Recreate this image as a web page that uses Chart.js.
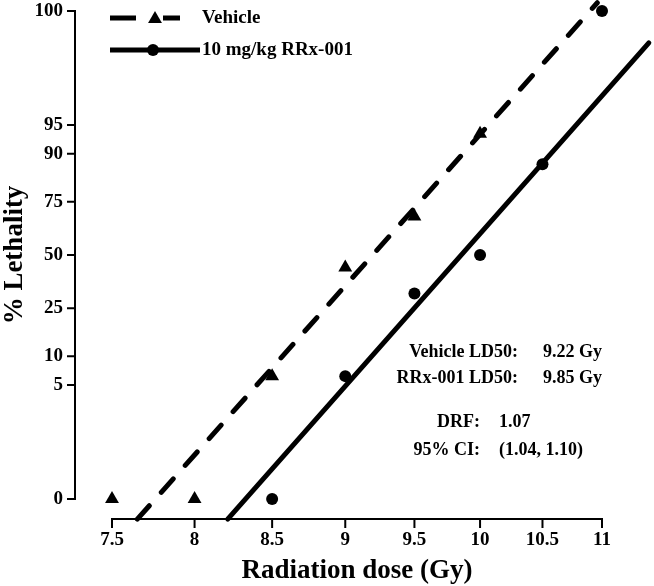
<!DOCTYPE html>
<html>
<head>
<meta charset="utf-8">
<title>% Lethality vs radiation dose</title>
<script src="https://cdn.jsdelivr.net/npm/chart.js@4.4.0/dist/chart.umd.min.js"></script>
<style>
  html, body { margin: 0; padding: 0; background: #fff; }
  #wrap { width: 654px; height: 586px; }
</style>
</head>
<body>
<div id="wrap"><canvas id="lethalityChart" width="654" height="586"></canvas></div>
<script>
// --- values (n = 16 per dose group) ---
const vehicleDose = [7.5, 8, 8.5, 9, 9.5, 10];
const vehicleLethality = [0, 0, 6.25, 43.75, 68.75, 93.75];
const rrxDose = [8.5, 9, 9.5, 10, 10.5, 11];
const rrxLethality = [0, 6.25, 31.25, 50, 87.5, 100];

// probit fit lines, end points as drawn in the figure
const vehicleFitDose = [7.65, 10.96];
const vehicleFitLethality = [0.041, 99.93];
const rrxFitDose = [8.21, 11.41];
const rrxFitLethality = [0.041, 99.64];

const xTicks = [7.5, 8, 8.5, 9, 9.5, 10, 10.5, 11];
const yTicks = [0, 5, 10, 25, 50, 75, 90, 95, 100];

const ld50Labels = ['Vehicle LD50:', 'RRx-001 LD50:'];
const ld50Values = ['9.22 Gy', '9.85 Gy'];
const drfLabels = ['DRF:', '95% CI:'];
const drfValues = ['1.07', '(1.04, 1.10)'];

const SERIF = '"Liberation Serif", "Times New Roman", serif';
const INK = '#000';

// inverse normal CDF (Acklam), used for the probability axis
function probit(p) {
    const a = [-39.69683028665376, 220.9460984245205, -275.9285104469687, 138.3577518672690, -30.66479806614716, 2.506628277459239];
    const b = [-54.47609879822406, 161.5858368580409, -155.6989798598866, 66.80131188771972, -13.28068155833317];
    const c = [-0.007784894002430293, -0.3223964580411365, -2.400758277161838, -2.549732539343734, 4.374664141464968, 2.938163982698783];
    const d = [0.007784695709041462, 0.3224671290700398, 2.445134137142996, 3.754408661907416];
    const lo = 0.02425;
    if (p < lo || p > 1 - lo) {
        const q = Math.sqrt(-2 * Math.log(p < lo ? p : 1 - p));
        const z = (((((c[0]*q+c[1])*q+c[2])*q+c[3])*q+c[4])*q+c[5]) / ((((d[0]*q+d[1])*q+d[2])*q+d[3])*q+1);
        return p < lo ? z : -z;
    }
    const q = p - 0.5, r = q * q;
    return (((((a[0]*r+a[1])*r+a[2])*r+a[3])*r+a[4])*r+a[5])*q / (((((b[0]*r+b[1])*r+b[2])*r+b[3])*r+b[4])*r+1);
}

// 0 % and 100 % sit at the 0.1 % / 99.9 % positions
const Z_END = probit(0.999);
function toZ(pct) {
    const p = pct <= 0 ? 0.001 : pct >= 100 ? 0.999 : pct / 100;
    return probit(p);
}

class ProbitScale extends Chart.LinearScale {
    determineDataLimits() { this.min = 0; this.max = 100; }
    buildTicks() { return yTicks.map(v => ({ value: v })); }
    getPixelForValue(v) {
        return this.getPixelForDecimal((toZ(v) + Z_END) / (2 * Z_END));
    }
}
ProbitScale.id = 'probit';
ProbitScale.defaults = {};
Chart.register(ProbitScale);

const toPoints = (xs, ys) => xs.map((x, i) => ({ x, y: ys[i] }));

// axes are offset from the plot area, SigmaPlot style
const AXIS_X = 75;
const AXIS_Y = 519;

const axesPlugin = {
    id: 'offsetAxes',
    beforeDatasetsDraw(chart) {
        const { ctx, scales: { x, y } } = chart;
        ctx.save();
        ctx.strokeStyle = INK;
        ctx.lineWidth = 2;
        ctx.beginPath();
        ctx.moveTo(AXIS_X, y.getPixelForValue(100));
        ctx.lineTo(AXIS_X, y.getPixelForValue(0));
        yTicks.forEach(v => {
            const py = y.getPixelForValue(v);
            ctx.moveTo(AXIS_X + 1, py);
            ctx.lineTo(AXIS_X - 8, py);
        });
        ctx.moveTo(x.getPixelForValue(xTicks[0]), AXIS_Y);
        ctx.lineTo(x.getPixelForValue(xTicks[xTicks.length - 1]), AXIS_Y);
        xTicks.forEach(v => {
            const px = x.getPixelForValue(v);
            ctx.moveTo(px, AXIS_Y - 1);
            ctx.lineTo(px, AXIS_Y + 9);
        });
        ctx.stroke();
        ctx.restore();
    },
    afterDraw(chart) {
        const { ctx } = chart;
        ctx.save();
        ctx.fillStyle = INK;
        ctx.strokeStyle = INK;

        // legend
        ctx.lineWidth = 5;
        ctx.setLineDash([26, 27]);
        ctx.beginPath();
        ctx.moveTo(110, 18);
        ctx.lineTo(180, 18);
        ctx.stroke();
        ctx.setLineDash([]);
        Chart.helpers.drawPoint(ctx, { pointStyle: 'triangle', radius: 8, borderWidth: 0, rotation: 0 }, 155, 19);
        ctx.beginPath();
        ctx.moveTo(110, 50);
        ctx.lineTo(200, 50);
        ctx.stroke();
        Chart.helpers.drawPoint(ctx, { pointStyle: 'circle', radius: 6, borderWidth: 0, rotation: 0 }, 153, 50);

        ctx.font = 'bold 19px ' + SERIF;
        ctx.textBaseline = 'middle';
        ctx.textAlign = 'left';
        ctx.fillText(chart.data.datasets[2].label, 202, 18);
        ctx.fillText(chart.data.datasets[3].label, 202, 50);

        // LD50 / DRF notes
        ctx.font = 'bold 18px ' + SERIF;
        [352, 378].forEach((ty, i) => {
            ctx.textAlign = 'right';
            ctx.fillText(ld50Labels[i], 518, ty);
            ctx.textAlign = 'left';
            ctx.fillText(ld50Values[i], 543, ty);
        });
        [422, 450].forEach((ty, i) => {
            ctx.textAlign = 'right';
            ctx.fillText(drfLabels[i], 480, ty);
            ctx.textAlign = 'left';
            ctx.fillText(drfValues[i], 499, ty);
        });
        ctx.restore();
    }
};

const tickFont = { family: SERIF, size: 19, weight: 'bold', lineHeight: 1 };
const titleFont = { family: SERIF, size: 27, weight: 'bold', lineHeight: 1.1 };

new Chart(document.getElementById('lethalityChart'), {
    type: 'line',
    data: {
        datasets: [
            {
                label: 'Vehicle fit',
                data: toPoints(vehicleFitDose, vehicleFitLethality),
                borderColor: INK, borderWidth: 5, borderDash: [18, 18], borderCapStyle: 'round',
                pointRadius: 0, clip: false, fill: false
            },
            {
                label: 'RRx-001 fit',
                data: toPoints(rrxFitDose, rrxFitLethality),
                borderColor: INK, borderWidth: 5, borderCapStyle: 'round',
                pointRadius: 0, clip: false, fill: false
            },
            {
                label: 'Vehicle',
                data: toPoints(vehicleDose, vehicleLethality),
                showLine: false, pointStyle: 'triangle', pointRadius: 8,
                backgroundColor: INK, borderColor: INK, pointBorderWidth: 0, clip: false
            },
            {
                label: '10 mg/kg RRx-001',
                data: toPoints(rrxDose, rrxLethality),
                showLine: false, pointStyle: 'circle', pointRadius: 6,
                backgroundColor: INK, borderColor: INK, pointBorderWidth: 0, clip: false
            }
        ]
    },
    options: {
        responsive: false,
        devicePixelRatio: 1,
        animation: false,
        events: [],
        layout: { padding: { left: 0, right: 52, top: 11, bottom: 0 } },
        plugins: { legend: { display: false }, tooltip: { enabled: false } },
        scales: {
            x: {
                type: 'logarithmic', min: 7.5, max: 11,
                afterBuildTicks: s => { s.ticks = xTicks.map(v => ({ value: v })); },
                afterFit: s => { s.height = 87; s.paddingLeft = 0; s.paddingRight = 0; },
                grid: { display: false, drawTicks: false },
                border: { display: false },
                ticks: { autoSkip: false, maxRotation: 0, padding: 32, color: INK, font: tickFont, callback: v => String(v) },
                title: { display: true, text: 'Radiation dose (Gy)', color: INK, font: titleFont, padding: 0 }
            },
            y: {
                type: 'probit',
                afterFit: s => { s.width = 112; s.paddingTop = 0; s.paddingBottom = 0; },
                grid: { display: false, drawTicks: false },
                border: { display: false },
                ticks: { autoSkip: false, padding: 49, color: INK, font: tickFont, callback: v => String(v) },
                title: { display: true, text: '% Lethality', color: INK, font: titleFont, padding: 0 }
            }
        }
    },
    plugins: [axesPlugin]
});
</script>
</body>
</html>
